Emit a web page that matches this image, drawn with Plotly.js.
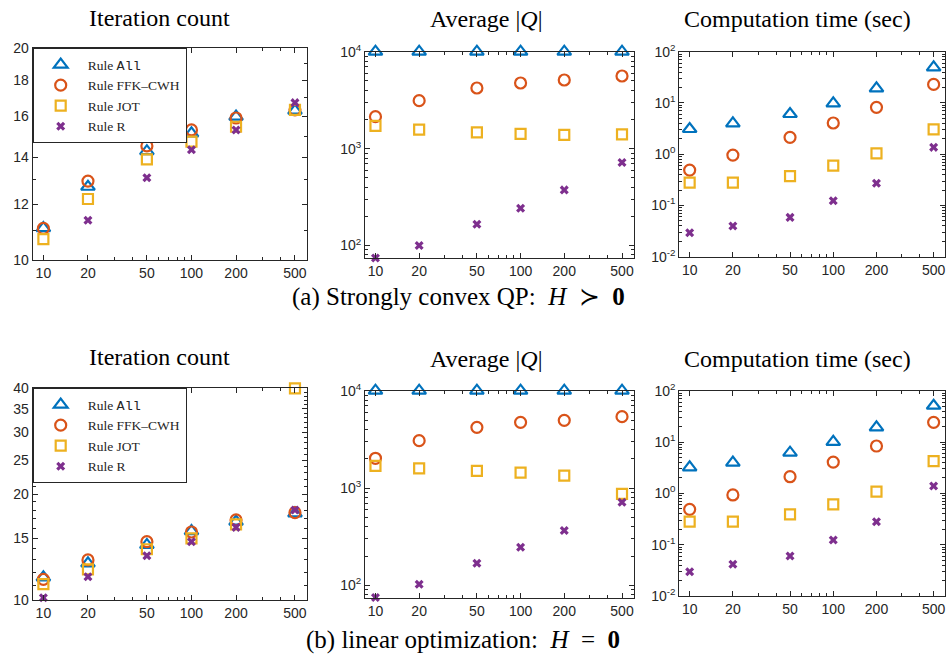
<!DOCTYPE html>
<html><head><meta charset="utf-8">
<script src="https://cdn.plot.ly/plotly-3.0.1.min.js"></script>
<style>html,body{margin:0;padding:0;background:#fff}#chart{width:946px;height:658px}</style>
</head><body><div id="chart"></div>
<script>
// ---------- data ----------
const sizes = [10, 20, 50, 100, 200, 500];
const sizeLabels = ['10', '20', '50', '100', '200', '500'];
const ruleNames = ['Rule <span style="font-family:Liberation Mono">All</span>', 'Rule FFK–CWH', 'Rule JOT', 'Rule R'];

// (a) Strongly convex QP
const qpIterAll  = [11.1, 12.71, 14.28, 15.14, 15.99, 16.31];
const qpIterFFK  = [11.09, 12.95, 14.53, 15.31, 15.92, 16.35];
const qpIterJOT  = [10.71, 12.21, 13.90, 14.73, 15.47, 16.35];
const qpIterR    = [null, 11.39, 13.09, 14.35, 15.31, 16.74];

const qpQAll = [10000, 10000, 10000, 10000, 10000, 10000];
const qpQFFK = [2138, 3126, 4220, 4753, 5105, 5612];
const qpQJOT = [1713, 1570, 1473, 1416, 1383, 1400];
const qpQR   = [74.3, 100, 166, 243, 375, 718];

const qpTAll = [3.1, 4.0, 6.08, 9.8, 19.3, 49.5];
const qpTFFK = [0.49, 0.96, 2.13, 4.06, 8.2, 23];
const qpTJOT = [0.28, 0.28, 0.375, 0.597, 1.04, 3.05];
const qpTR   = [0.0294, 0.0396, 0.0585, 0.124, 0.27, 1.36];

// (b) linear optimization
const lpIterAll = [11.6, 12.71, 14.34, 15.7, 16.71, 17.64];
const lpIterFFK = [11.45, 13.0, 14.65, 15.61, 16.89, 17.72];
const lpIterJOT = [11.1, 12.22, 13.94, 14.98, 16.41, 40];
const lpIterR   = [10.15, 11.65, 13.37, 14.65, 16.09, 18.03];

const lpQAll = [10000, 10000, 10000, 10000, 10000, 10000];
const lpQFFK = [2023, 3070, 4207, 4732, 4963, 5412];
const lpQJOT = [1687, 1597, 1500, 1442, 1343, 871];
const lpQR   = [75.3, 103, 169, 247, 366, 716];

const lpTAll = [3.2, 3.96, 6.2, 10.1, 19.3, 51];
const lpTFFK = [0.488, 0.93, 2.11, 4.07, 8.36, 24.2];
const lpTJOT = [0.28, 0.28, 0.39, 0.61, 1.08, 4.26];
const lpTR   = [0.0298, 0.0414, 0.060, 0.123, 0.28, 1.39];

const iterTicksA = [10, 12, 14, 16, 18, 20];
const iterTicksB = [10, 15, 20, 25, 30, 35, 40];
const qTicks = [100, 1000, 10000];
const qTickText = ['10<sup>2</sup>', '10<sup>3</sup>', '10<sup>4</sup>'];
const tTicks = [0.01, 0.1, 1, 10, 100];
const tTickText = ['10<sup>-2</sup>', '10<sup>-1</sup>', '10<sup>0</sup>', '10<sup>1</sup>', '10<sup>2</sup>'];

const panelTitles = ['Iteration count', 'Average |<i>Q</i>|', 'Computation time (sec)'];
const captionA = '(a) Strongly convex QP:  <i>H</i>  ≻  <b>0</b>';
const captionB = '(b) linear optimization:  <i>H</i>  =  <b>0</b>';

// ---------- styles ----------
const colors = ['#0072BD', '#D95319', '#EDB120', '#7E2F8E'];
const symbols = ['triangle-up-open', 'circle-open', 'square-open', 'x'];
const msizes = [12, 11, 10, 8];
const serif = 'Liberation Serif, Times New Roman, serif';
const sans = 'Liberation Sans, Arial, sans-serif';
const ink = '#262626';

const panels = [
  {series: [qpIterAll, qpIterFFK, qpIterJOT, qpIterR], legend: 'legend'},
  {series: [qpQAll, qpQFFK, qpQJOT, qpQR]},
  {series: [qpTAll, qpTFFK, qpTJOT, qpTR]},
  {series: [lpIterAll, lpIterFFK, lpIterJOT, lpIterR], legend: 'legend2'},
  {series: [lpQAll, lpQFFK, lpQJOT, lpQR]},
  {series: [lpTAll, lpTFFK, lpTJOT, lpTR]}
];

const traces = [];
panels.forEach((p, i) => {
  const suf = i === 0 ? '' : String(i + 1);
  p.series.forEach((ys, k) => {
    const t = {
      type: 'scatter', mode: 'markers', x: sizes, y: ys,
      xaxis: 'x' + suf, yaxis: 'y' + suf, name: ruleNames[k],
      cliponaxis: false, hoverinfo: 'skip',
      marker: {symbol: symbols[k], size: msizes[k], color: colors[k],
               line: {color: colors[k], width: k === 3 ? 0 : 2.2}},
      showlegend: !!p.legend
    };
    if (p.legend) t.legend = p.legend;
    traces.push(t);
  });
});

// ---------- layout ----------
const W = 946, H = 658;
const py = v => 1 - v / H;
const xDom = [[32.7 / W, 306.7 / W], [365 / W, 633.5 / W], [679.3 / W, 945 / W]];
const yDomTop = [[py(260), py(48.3)], [py(258.3), py(51.7)], [py(256.7), py(51.7)]];
const yDomBot = [[py(600), py(388.3)], [py(598.3), py(390.7)], [py(596), py(390.7)]];

function logMinor(lo, hi) {
  const out = [];
  for (let e = lo; e < hi; e++) for (let m = 2; m <= 9; m++) out.push(m * Math.pow(10, e));
  return out;
}
function base() {
  return {showline: true, linecolor: ink, linewidth: 1, mirror: 'allticks',
          ticks: 'inside', ticklen: 5, tickwidth: 1, tickcolor: ink,
          showgrid: false, zeroline: false, fixedrange: true,
          tickfont: {family: sans, size: 14, color: ink}};
}
function xAxis(i, anchor) {
  return Object.assign(base(), {
    type: 'log', domain: xDom[i % 3], anchor: anchor,
    range: [Math.log10(8.47), Math.log10(600)],
    tickmode: 'array', tickvals: sizes, ticktext: sizeLabels,
    minor: {ticks: 'inside', ticklen: 3, tickcolor: ink, tickmode: 'array',
            tickvals: [30, 40, 60, 70, 80, 90, 300, 400]}
  });
}
function yAxis(i, anchor) {
  const row = i < 3 ? yDomTop : yDomBot;
  const a = Object.assign(base(), {type: 'log', domain: row[i % 3], anchor: anchor, tickmode: 'array'});
  const c = i % 3;
  if (c === 0) {
    if (i === 0) {
      a.range = [1, Math.log10(20)];
      a.tickvals = iterTicksA; a.ticktext = iterTicksA.map(String);
      a.minor = {ticks: 'inside', ticklen: 3, tickcolor: ink, tickmode: 'array', tickvals: [11, 13, 15, 17, 19]};
    } else {
      a.range = [1, Math.log10(40)];
      a.tickvals = iterTicksB; a.ticktext = iterTicksB.map(String);
      const mv = []; for (let v = 11; v < 40; v++) if (v % 5) mv.push(v);
      a.minor = {ticks: 'inside', ticklen: 3, tickcolor: ink, tickmode: 'array', tickvals: mv};
    }
  } else if (c === 1) {
    a.range = [Math.log10(73.8), 4];
    a.tickvals = qTicks; a.ticktext = qTickText;
    a.minor = {ticks: 'inside', ticklen: 3, tickcolor: ink, tickmode: 'array', tickvals: logMinor(1, 4)};
  } else {
    a.range = [-2, 2];
    a.tickvals = tTicks; a.ticktext = tTickText;
    a.minor = {ticks: 'inside', ticklen: 3, tickcolor: ink, tickmode: 'array', tickvals: logMinor(-2, 2)};
  }
  return a;
}

const layout = {
  width: W, height: H, margin: {l: 0, r: 0, t: 0, b: 0},
  paper_bgcolor: '#fff', plot_bgcolor: '#fff',
  annotations: [], showlegend: true
};
for (let i = 0; i < 6; i++) {
  const suf = i === 0 ? '' : String(i + 1);
  layout['xaxis' + suf] = xAxis(i, 'y' + suf);
  layout['yaxis' + suf] = yAxis(i, 'x' + suf);
}
const legendBase = {xanchor: 'left', yanchor: 'top', bgcolor: '#fff', bordercolor: ink, borderwidth: 1,
  font: {family: serif, size: 13.5, color: ink}, tracegroupgap: 0, itemwidth: 44, itemclick: false, itemdoubleclick: false};
layout.legend = Object.assign({}, legendBase, {x: 32.7 / W, y: py(48.3)});
layout.legend2 = Object.assign({}, legendBase, {x: 32.7 / W, y: py(388.3)});

const titleX = [159, 486, 797.5];
const titleYTop = [18, 19, 19], titleYBot = [357, 359, 359];
for (let c = 0; c < 3; c++) {
  layout.annotations.push({text: panelTitles[c], xref: 'paper', yref: 'paper', x: titleX[c] / W, y: py(titleYTop[c]),
    xanchor: 'center', yanchor: 'middle', showarrow: false, font: {family: serif, size: 24, color: '#000'}});
  layout.annotations.push({text: panelTitles[c], xref: 'paper', yref: 'paper', x: titleX[c] / W, y: py(titleYBot[c]),
    xanchor: 'center', yanchor: 'middle', showarrow: false, font: {family: serif, size: 24, color: '#000'}});
}
layout.annotations.push({text: captionA, xref: 'paper', yref: 'paper', x: 458 / W, y: py(297),
  xanchor: 'center', yanchor: 'middle', showarrow: false, font: {family: serif, size: 25, color: '#000'}});
layout.annotations.push({text: captionB, xref: 'paper', yref: 'paper', x: 463 / W, y: py(640),
  xanchor: 'center', yanchor: 'middle', showarrow: false, font: {family: serif, size: 25, color: '#000'}});

Plotly.newPlot('chart', traces, layout, {staticPlot: true, displayModeBar: false});
</script>
</body></html>
